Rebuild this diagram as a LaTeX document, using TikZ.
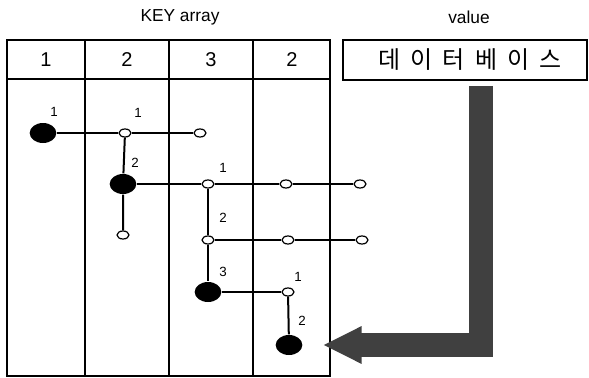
\documentclass[tikz,border=0pt]{standalone}
\usepackage{fontspec}
\setmainfont{Liberation Sans}
\newfontfamily\kor[LetterSpace=42]{Noto Sans CJK KR}
\usetikzlibrary{arrows.meta, positioning, shapes}

\tikzset{
    full/.style={ellipse, fill=black, minimum width=20pt, minimum height=15pt, inner sep=0pt},
    empty/.style={ellipse, draw, fill=white, line width=0.9pt, minimum width=9pt, minimum height=6pt, inner sep=0pt},
    num/.style={font=\fontsize{10}{12}\selectfont, inner sep=0pt},
    keynum/.style={font=\fontsize{15}{18}\selectfont},
    title/.style={font=\fontsize{13}{15}\selectfont},
    fatarrow/.style={line width=17.5pt, draw=black!75, line join=miter, shorten >=15pt,
        -{Triangle[length=29pt, width=26pt]}}
}

\begin{document}
\begin{tikzpicture}[x=0.75pt, y=-0.75pt, line width=0.8pt]
    \useasboundingbox (0,0) rectangle (589,378);

    % titles
    \node[title] (keytitle) at (180,17) {KEY array};
    \node[title] (valtitle) at (469,17) {value};

    % key table
    \draw (7,40) rectangle (330,376);
    \draw (7,79) -- (330,79);
    \foreach \x in {85,169,253}
        \draw (\x,40) -- (\x,376);
    \node[keynum] (k1) at (46,60) {1};
    \node[keynum] (k2) at (127,60) {2};
    \node[keynum] (k3) at (211,60) {3};
    \node[keynum] (k4) at (292,60) {2};

    % value box
    \node[draw, minimum width=183pt, minimum height=30pt, inner sep=0pt] (value) at (465,60)
        {\fontsize{18}{21}\selectfont\kor 데이터베이스\kern-7.5pt};

    % trie nodes
    \node[full] (a) at (43,133) {};
    \node[empty] (a1) at (125,133) {};
    \node[empty] (a2) at (200,133) {};
    \node[full] (b) at (123,184) {};
    \node[empty] (b2) at (123,235) {};
    \node[empty] (b1) at (208,184) {};
    \node[empty] (b11) at (286,184) {};
    \node[empty] (b12) at (360,184) {};
    \node[empty] (c2) at (208,240) {};
    \node[empty] (c21) at (288,240) {};
    \node[empty] (c22) at (362,240) {};
    \node[full] (c) at (208,292) {};
    \node[empty] (c1) at (288,292) {};
    \node[full] (d) at (289,345) {};

    % edges
    \draw (a) -- (a1) -- (a2);
    \draw (b) -- (b1) -- (b11) -- (b12);
    \draw (c2) -- (c21) -- (c22);
    \draw (c) -- (c1);
    \draw[line width=1.5pt] (a1) -- (b) -- (b2);
    \draw[line width=1.5pt] (b1) -- (c2) -- (c);
    \draw[line width=1.5pt] (c1) -- (d);

    % labels
    \node[num] (la) at (54,112) {1};
    \node[num] (la1) at (138,113) {1};
    \node[num] (lb) at (135,163) {2};
    \node[num] (lb1) at (223,168) {1};
    \node[num] (lc2) at (223,218) {2};
    \node[num] (lc) at (223,272) {3};
    \node[num] (lc1) at (298,277) {1};
    \node[num] (ld) at (302,321) {2};

    % pointer from value to leaf
    \coordinate (drop) at (481,86);
    \draw[fatarrow] (drop) |- (d);
\end{tikzpicture}
\end{document}
